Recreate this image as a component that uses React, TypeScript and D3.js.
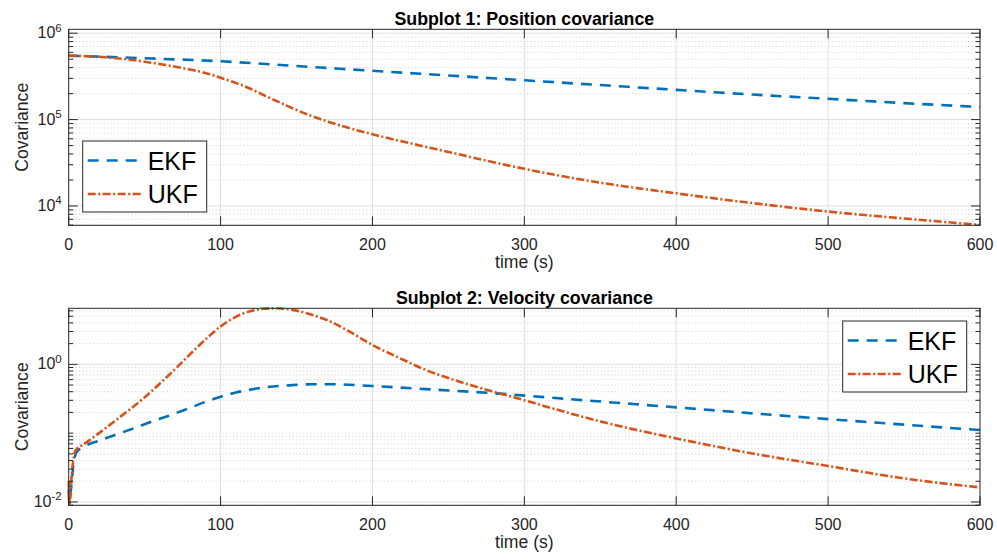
import React from 'react';
import * as d3 from 'd3';

const W = 997;
const H = 560;
const FONT = '"Liberation Sans", Arial, Helvetica, sans-serif';

const xTicks = [0, 100, 200, 300, 400, 500, 600];

// Subplot 1: position covariance
const posTimeEKF = [0, 50, 100, 150, 200, 250, 300, 350, 400, 450, 500, 550, 600];
const posEKF = [5.5e5, 5.13e5, 4.73e5, 4.17e5, 3.67e5, 3.24e5, 2.85e5, 2.51e5, 2.21e5, 1.95e5, 1.74e5, 1.55e5, 1.4e5];
const posTimeUKF = [0, 25, 50, 75, 90, 100, 110, 120, 130, 140, 150, 160, 170, 180, 200, 225, 250, 275, 300, 350, 400, 450, 500, 550, 600];
const posUKF = [5.5e5, 5.25e5, 4.68e5, 3.94e5, 3.47e5, 3.05e5, 2.66e5, 2.26e5, 1.86e5, 1.55e5, 1.29e5, 1.1e5, 9.55e4, 8.41e4, 6.76e4, 5.31e4, 4.22e4, 3.35e4, 2.69e4, 1.86e4, 1.4e4, 1.08e4, 8.61e3, 7.16e3, 6.03e3];

// Subplot 2: velocity covariance
const velTimeEKF = [0, 0.5, 1, 2, 3, 4, 5, 10, 20, 30, 42.5, 55, 65, 80, 90, 100, 110, 120, 130, 145, 160, 175, 200, 235, 280, 318, 400, 500, 600];
const velEKF = [0.0151, 0.01, 0.012, 0.02, 0.0331, 0.0447, 0.0525, 0.0638, 0.0776, 0.0933, 0.117, 0.148, 0.176, 0.234, 0.285, 0.339, 0.389, 0.431, 0.465, 0.495, 0.513, 0.513, 0.484, 0.437, 0.38, 0.327, 0.237, 0.16, 0.111];
const velTimeUKF = [0, 0.5, 1, 2, 3, 4, 5, 10, 20, 30, 40, 50, 60, 70, 80, 90, 100, 110, 120, 128, 135, 142, 150, 160, 170, 185, 200, 218, 235, 250, 265, 280, 300, 310, 355, 400, 450, 500, 550, 600];
const velUKF = [0.02, 0.009, 0.011, 0.025, 0.04, 0.0525, 0.0575, 0.0692, 0.1, 0.148, 0.219, 0.331, 0.525, 0.851, 1.41, 2.29, 3.55, 4.9, 5.96, 6.43, 6.53, 6.43, 6.03, 5.25, 4.41, 2.98, 1.91, 1.23, 0.832, 0.631, 0.495, 0.398, 0.302, 0.26, 0.139, 0.0839, 0.0508, 0.0333, 0.022, 0.0163];

const posYTicks = [1e4, 1e5, 1e6];
const velYTicks = [1e-2, 1e0];
const posDomain = [5970, 1.11e6];
const velDomain = [0.00895, 6.52];

const seriesNames = ['EKF', 'UKF'];
const colors = ['#0072BD', '#D95319'];
const dashes = ['11,8', '8,2.5,2,2.5'];

const AX = '#262626';

type PanelProps = {
  top: number;
  bottom: number;
  left: number;
  right: number;
  title: string;
  tE: number[];
  ekf: number[];
  tU: number[];
  ukf: number[];
  yDomain: number[];
  yTicks: number[];
  legendX: number;
  legendY: number;
};

function minorValues(domain: number[]): number[] {
  const out: number[] = [];
  const lo = Math.floor(Math.log10(domain[0]));
  const hi = Math.ceil(Math.log10(domain[1]));
  for (let d = lo; d <= hi; d++) {
    for (let k = 1; k <= 9; k++) {
      const v = k * Math.pow(10, d);
      if (v >= domain[0] && v <= domain[1]) out.push(v);
    }
  }
  return out;
}

function Panel(p: PanelProps) {
  const x = d3.scaleLinear().domain([0, 600]).range([p.left, p.right]);
  const y = d3.scaleLog().domain(p.yDomain).range([p.bottom, p.top]);
  const line = d3
    .line<[number, number]>()
    .x((d) => x(d[0]))
    .y((d) => y(d[1]))
    .curve(d3.curveMonotoneX);
  const ekfPts = p.tE.map((t, i) => [t, p.ekf[i]] as [number, number]);
  const ukfPts = p.tU.map((t, i) => [t, p.ukf[i]] as [number, number]);
  const allY = minorValues(p.yDomain);
  const majorSet = new Set(p.yTicks.map((v) => Math.round(Math.log10(v))));
  const isMajor = (v: number) => {
    const l = Math.log10(v);
    return Math.abs(l - Math.round(l)) < 1e-9 && majorSet.has(Math.round(l));
  };
  const minorY = allY.filter((v) => !isMajor(v));
  const cx = (p.left + p.right) / 2;
  const cy = (p.top + p.bottom) / 2;
  const lx = p.legendX;
  const ly = p.legendY;
  return (
    <g>
      {minorY.map((v, i) => (
        <line key={'mg' + i} x1={p.left} x2={p.right} y1={y(v)} y2={y(v)} stroke="#c4c4c4" strokeWidth={0.8} strokeDasharray="1,2.5" />
      ))}
      {p.yTicks.map((v, i) => (
        <line key={'yg' + i} x1={p.left} x2={p.right} y1={y(v)} y2={y(v)} stroke="#dfdfdf" strokeWidth={1} />
      ))}
      {xTicks.slice(1, -1).map((v, i) => (
        <line key={'xg' + i} x1={x(v)} x2={x(v)} y1={p.top} y2={p.bottom} stroke="#dfdfdf" strokeWidth={1} />
      ))}
      <path d={line(ekfPts) || ''} fill="none" stroke={colors[0]} strokeWidth={2.6} strokeDasharray={dashes[0]} />
      <path d={line(ukfPts) || ''} fill="none" stroke={colors[1]} strokeWidth={2.6} strokeDasharray={dashes[1]} />
      <rect x={p.left} y={p.top} width={p.right - p.left} height={p.bottom - p.top} fill="none" stroke={AX} strokeWidth={1} />
      {xTicks.map((v, i) => (
        <g key={'xt' + i}>
          <line x1={x(v)} x2={x(v)} y1={p.bottom} y2={p.bottom - 9} stroke={AX} strokeWidth={1} />
          <line x1={x(v)} x2={x(v)} y1={p.top} y2={p.top + 9} stroke={AX} strokeWidth={1} />
          <text x={x(v)} y={p.bottom + 25} textAnchor="middle" fontSize={16} fill={AX} fontFamily={FONT}>
            {v}
          </text>
        </g>
      ))}
      {minorY.map((v, i) => (
        <g key={'ym' + i}>
          <line x1={p.left} x2={p.left + 4.5} y1={y(v)} y2={y(v)} stroke={AX} strokeWidth={1} />
          <line x1={p.right} x2={p.right - 4.5} y1={y(v)} y2={y(v)} stroke={AX} strokeWidth={1} />
        </g>
      ))}
      {p.yTicks.map((v, i) => (
        <g key={'yt' + i}>
          <line x1={p.left} x2={p.left + 9} y1={y(v)} y2={y(v)} stroke={AX} strokeWidth={1} />
          <line x1={p.right} x2={p.right - 9} y1={y(v)} y2={y(v)} stroke={AX} strokeWidth={1} />
          <text x={p.left - 7} y={y(v) + 5} textAnchor="end" fontSize={16} fill={AX} fontFamily={FONT}>
            <tspan>10</tspan>
            <tspan fontSize={11.5} dy={-6.5}>{Math.round(Math.log10(v))}</tspan>
          </text>
        </g>
      ))}
      <text x={cx} y={p.bottom + 43} textAnchor="middle" fontSize={17.6} fill={AX} fontFamily={FONT}>
        time (s)
      </text>
      <text
        x={0}
        y={0}
        transform={`translate(${p.left - 41},${cy}) rotate(-90)`}
        textAnchor="middle"
        fontSize={17.6}
        fill={AX}
        fontFamily={FONT}
      >
        Covariance
      </text>
      <text x={cx} y={p.top - 4} textAnchor="middle" fontSize={17.8} fontWeight="bold" fill="#000" fontFamily={FONT}>
        {p.title}
      </text>
      <g>
        <rect x={lx} y={ly} width={124} height={71} fill="#fff" stroke={AX} strokeWidth={1} />
        {seriesNames.map((n, i) => (
          <g key={'lg' + i}>
            <line
              x1={lx + 5}
              x2={lx + 60}
              y1={ly + 19.5 + i * 33.5}
              y2={ly + 19.5 + i * 33.5}
              stroke={colors[i]}
              strokeWidth={2.6}
              strokeDasharray={dashes[i]}
            />
            <text x={lx + 65} y={ly + 19.5 + i * 33.5 + 9} fontSize={25} fill="#000" fontFamily={FONT}>
              {n}
            </text>
          </g>
        ))}
      </g>
    </g>
  );
}

export default function App() {
  return (
    <svg width={W} height={H} style={{ position: 'absolute', left: 0, top: 0, background: '#fff' }}>
      <rect x={0} y={0} width={W} height={H} fill="#fff" />
      <Panel
        top={29.3}
        bottom={225.3}
        left={68.7}
        right={980}
        title="Subplot 1: Position covariance"
        tE={posTimeEKF}
        ekf={posEKF}
        tU={posTimeUKF}
        ukf={posUKF}
        yDomain={posDomain}
        yTicks={posYTicks}
        legendX={82.7}
        legendY={141}
      />
      <Panel
        top={308.3}
        bottom={505.3}
        left={68.7}
        right={980}
        title="Subplot 2: Velocity covariance"
        tE={velTimeEKF}
        ekf={velEKF}
        tU={velTimeUKF}
        ukf={velUKF}
        yDomain={velDomain}
        yTicks={velYTicks}
        legendX={842.7}
        legendY={321}
      />
    </svg>
  );
}
